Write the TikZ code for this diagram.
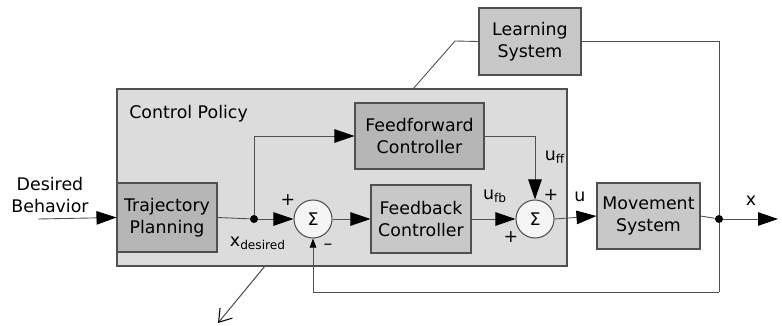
\documentclass[tikz,border=0pt]{standalone}
\usepackage{fontspec}
\setmainfont{DejaVu Sans}
\usepackage{xcolor}
\usepackage{tikz}
\usetikzlibrary{arrows.meta,positioning}

\definecolor{policygray}{HTML}{DCDCDC}
\definecolor{darkbox}{HTML}{B6B6B6}
\definecolor{lightbox}{HTML}{C8C8C8}
\definecolor{edgegray}{HTML}{505050}

\begin{document}
\begin{tikzpicture}[
  x=0.02cm, y=-0.02cm,
  font=\fontsize{9.9}{12.5}\selectfont,
  policy/.style={draw=edgegray, line width=0.8pt, fill=policygray, minimum width=9cm, minimum height=3.54cm, inner sep=0pt},
  block/.style={draw=edgegray, line width=0.6pt, fill=lightbox, align=center, inner sep=0pt},
  darkblock/.style={block, fill=darkbox},
  sumnode/.style={draw=edgegray, line width=0.6pt, circle, fill=gray!8, minimum size=0.76cm, inner sep=0pt},
  flow/.style={-{Triangle[length=4mm, width=2.7mm, color=black]}, line width=0.5pt, draw=edgegray},
  smallflow/.style={-{Triangle[length=1.8mm, width=1.3mm, color=black]}, line width=0.5pt, draw=edgegray},
  wire/.style={line width=0.5pt, draw=edgegray},
  outflow/.style={-{Straight Barb[length=2.4mm, width=3.2mm, color=black]}, line width=0.6pt, draw=edgegray},
  dot/.style={circle, fill=black, minimum size=1.6mm, inner sep=0pt},
  sig/.style={inner sep=0pt}
]
  \useasboundingbox (0,0) rectangle (782,325);

  % outer box
  \node[policy] (policy) at (342,177.5) {};
  \node[sig, anchor=west] (policylbl) at (129,114) {Control Policy};

  % blocks
  \node[darkblock, minimum width=2cm, minimum height=1.38cm] (traj) at (167,217.5) {Trajectory\\Planning};
  \node[darkblock, minimum width=2.58cm, minimum height=1.32cm] (ff) at (419.5,136) {Feedforward\\Controller};
  \node[block, minimum width=2cm, minimum height=1.36cm] (fb) at (421,219) {Feedback\\Controller};
  \node[block, minimum width=2.06cm, minimum height=1.32cm] (move) at (648.5,216) {Movement\\System};
  \node[block, minimum width=2.04cm, minimum height=1.34cm] (learn) at (530,41.5) {Learning\\System};

  \node[sumnode] (sum1) at (313,219) {Σ};
  \node[sumnode] (sum2) at (535,219) {Σ};

  % points
  \coordinate (start) at (38,219);
  \node[dot] (indot) at (254,219) {};
  \node[dot] (outdot) at (719,219) {};
  \coordinate (xout) at (778,219);
  \coordinate (fbcorner) at (719,292);
  \coordinate (lrnbend) at (455,41);
  \coordinate (lrnfoot) at (413,89);
  \coordinate (outtop) at (265,266);
  \coordinate (outtip) at (218,323);

  % labels
  \node[sig, align=center] (desired) at (50,195) {Desired\\Behavior};
  \node[sig] (xdes) at (258,243) {x\textsubscript{desired}};
  \node[sig] (p1) at (288,200) {+};
  \node[sig] (m1) at (328,247) {–};
  \node[sig] (uff) at (555,157) {u\textsubscript{ff}};
  \node[sig] (p2) at (551,195) {+};
  \node[sig] (p3) at (511,237) {+};
  \node[sig] (ufb) at (495,196) {u\textsubscript{fb}};
  \node[sig] (ulbl) at (580,197) {u};
  \node[sig] (xlbl) at (751,201) {x};

  % connectors
  \draw[flow] (start) -- (traj.west);
  \draw[wire] (traj.east) -- (indot);
  \draw[flow] (indot) -- (sum1.west);
  \draw[flow] (indot) |- (ff.west);
  \draw[flow] (sum1.east) -- (fb.west);
  \draw[flow] (fb.east) -- (sum2.west);
  \draw[flow] (ff.east) -| (sum2.north);
  \draw[flow] (sum2.east) -- (move.west);
  \draw[wire] (move.east) -- (outdot);
  \draw[flow] (outdot) -- (xout);
  \draw[wire] (outdot) -- (fbcorner);
  \draw[smallflow] (fbcorner) -| (sum1.south);
  \draw[wire] (learn.east) -| (outdot);
  \draw[wire] (learn.west) -- (lrnbend) -- (lrnfoot);
  \draw[outflow] (outtop) -- (outtip);
\end{tikzpicture}
\end{document}
